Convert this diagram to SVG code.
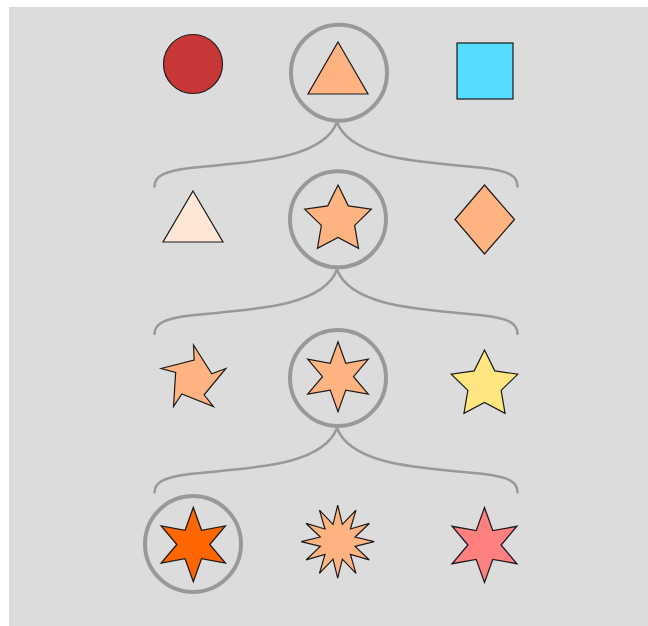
<svg xmlns="http://www.w3.org/2000/svg" xmlns:xlink="http://www.w3.org/1999/xlink" width="648" height="626" viewBox="0 0 648 626">
<style>
.shape{stroke:#1a1a1a;stroke-width:1.2;stroke-linejoin:miter}
.ring{fill:none;stroke:#999999;stroke-width:4}
.conn{fill:none;stroke:#999999;stroke-width:2.5;stroke-linecap:round}
</style>
<defs>
<path id="star5" d="M0,-35 L10.29,-14.16 L33.29,-10.82 L16.64,5.41 L20.57,28.32 L0,17.5 L-20.57,28.32 L-16.64,5.41 L-33.29,-10.82 L-10.29,-14.16 Z"/>
<path id="star6" d="M0,-35 L7.75,-13.42 L30.31,-17.5 L15.5,0 L30.31,17.5 L7.75,13.42 L0,35 L-7.75,13.42 L-30.31,17.5 L-15.5,0 L-30.31,-17.5 L-7.75,-13.42 Z"/>
<path id="star12" d="M0,-36.5 L4.66,-17.39 L18.25,-31.61 L12.73,-12.73 L31.61,-18.25 L17.39,-4.66 L36.5,0 L17.39,4.66 L31.61,18.25 L12.73,12.73 L18.25,31.61 L4.66,17.39 L0,36.5 L-4.66,17.39 L-18.25,31.61 L-12.73,12.73 L-31.61,18.25 L-17.39,4.66 L-36.5,0 L-17.39,-4.66 L-31.61,-18.25 L-12.73,-12.73 L-18.25,-31.61 L-4.66,-17.39 Z"/>
<path id="brace" d="M0,0 C-15,40 -95,40 -147,46 C-172,49 -182.5,54 -182.5,64.5 M0,0 C15,40 95,40 147,46 C172,49 180.5,54 180.5,64.5"/>
</defs>
<rect x="0" y="0" width="648" height="626" fill="#ffffff"/>
<rect x="9" y="7" width="639" height="619" fill="#dcdcdc"/>

<g id="connectors">
<use xlink:href="#brace" class="conn" transform="translate(337,122)"/>
<use xlink:href="#brace" class="conn" transform="translate(337,269.5)"/>
<use xlink:href="#brace" class="conn" transform="translate(337,428)"/>
</g>

<g id="rings">
<circle class="ring" cx="339" cy="72.7" r="48"/>
<circle class="ring" cx="338" cy="219.3" r="48"/>
<circle class="ring" cx="338" cy="378" r="48"/>
<circle class="ring" cx="193" cy="544" r="48"/>
</g>

<g id="red-circle"><circle class="shape" cx="193" cy="64" r="29.5" fill="#c83737"/></g>
<g id="triangle-top"><polygon class="shape" points="338,42 368,94 308,94" fill="#ffb380"/></g>
<g id="square"><rect class="shape" x="457" y="43" width="56" height="56" fill="#55ddff"/></g>

<g id="triangle-light"><polygon class="shape" points="193,191 223,242 163,242" fill="#ffe6d5"/></g>
<g id="star-five"><use xlink:href="#star5" class="shape" fill="#ffb380" transform="translate(338,220)"/></g>
<g id="diamond"><polygon class="shape" points="484.5,185 514.5,219.5 484.5,254 455,219.5" fill="#ffb380"/></g>

<g id="star-twisted"><polygon class="shape" fill="#ffb380" points="193.5,345 211.76,373.76 225.84,368.49 204.12,394.75 213.49,406.51 181.8,393.97 173.51,406.51 175.65,372.5 161.16,368.49 194.16,360.01"/></g>
<g id="star-six"><use xlink:href="#star6" class="shape" fill="#ffb380" transform="translate(338,376.7)"/></g>
<g id="star-yellow"><use xlink:href="#star5" class="shape" fill="#ffe680" transform="translate(484.5,385)"/></g>

<g id="star-orange"><use xlink:href="#star6" class="shape" fill="#ff6600" transform="translate(193.3,544.5) scale(1.06)"/></g>
<g id="star-burst"><use xlink:href="#star12" class="shape" fill="#ffb380" transform="translate(337.7,541.7)"/></g>
<g id="star-pink"><use xlink:href="#star6" class="shape" fill="#ff8080" transform="translate(484.5,545) scale(1.07)"/></g>
</svg>
